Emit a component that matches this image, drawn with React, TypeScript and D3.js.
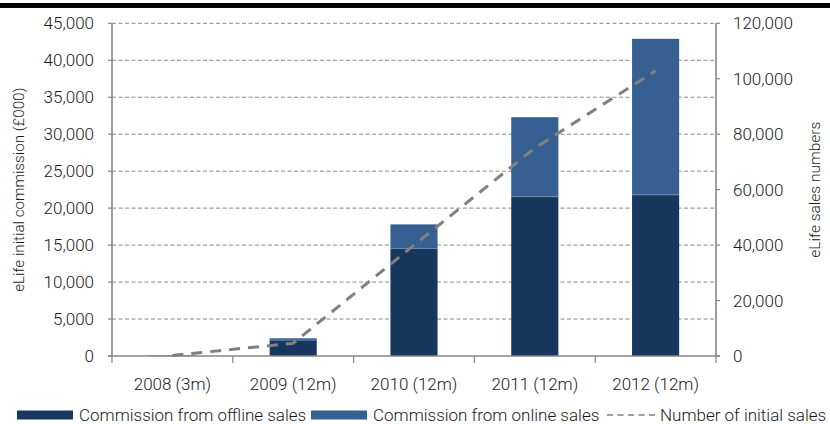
import React from 'react';
import * as d3 from 'd3';

const categories = ['2008 (3m)', '2009 (12m)', '2010 (12m)', '2011 (12m)', '2012 (12m)'];
const offlineCommission = [50, 2150, 14550, 21550, 21800];
const onlineCommission = [10, 250, 3250, 10750, 21100];
const initialSales = [200, 4600, 40000, 75000, 102900];
const leftTicks = [0, 5000, 10000, 15000, 20000, 25000, 30000, 35000, 40000, 45000];
const rightTicks = [0, 20000, 40000, 60000, 80000, 100000, 120000];

const width = 830;
const height = 424;
const margins = { l: 112, r: 114, t: 23.3, b: 68 };
const font = 'Roboto, "Liberation Sans", Arial, sans-serif';
const textColor = '#1a1a1a';

const App = () => {
  const plotw = width - margins.l - margins.r;
  const ploth = height - margins.t - margins.b;

  const x = d3.scaleBand().domain(categories).range([margins.l, margins.l + plotw]).paddingInner(0.61).paddingOuter(0.305);
  const band = d3.scaleBand().domain(categories).range([margins.l, margins.l + plotw]);
  const yL = d3.scaleLinear().domain([0, 45000]).range([margins.t + ploth, margins.t]);
  const yR = d3.scaleLinear().domain([0, 120000]).range([margins.t + ploth, margins.t]);
  const fmt = d3.format(',');

  const line = d3
    .line<number>()
    .x((d, i) => band(categories[i])! + band.bandwidth() / 2)
    .y(d => yR(d));

  const y0 = yL(0);
  const xr = margins.l + plotw;
  const edges = [...categories.map(c => band(c)!), xr];

  return (
    <svg width={width} height={height} style={{ position: 'absolute', left: 0, top: 0, background: '#fff' }} fontFamily={font} fontWeight={300}>
      <rect x={0} y={3} width={width} height={5} fill="#000" />

      {/* gridlines */}
      {leftTicks.slice(1).map(t => (
        <line key={t} x1={margins.l} x2={xr} y1={yL(t)} y2={yL(t)} stroke="#8a8a8a" strokeWidth={1} strokeDasharray="4,2.5" />
      ))}

      {/* bars */}
      {categories.map((c, i) => (
        <g key={c}>
          <rect x={x(c)} width={x.bandwidth()} y={yL(offlineCommission[i])} height={y0 - yL(offlineCommission[i])} fill="#17375e" />
          <rect
            x={x(c)}
            width={x.bandwidth()}
            y={yL(offlineCommission[i] + onlineCommission[i])}
            height={yL(offlineCommission[i]) - yL(offlineCommission[i] + onlineCommission[i])}
            fill="#376092"
          />
          <line x1={x(c)} x2={x(c)! + x.bandwidth()} y1={yL(offlineCommission[i])} y2={yL(offlineCommission[i])} stroke="#6f8fb8" strokeWidth={0.8} />
        </g>
      ))}

      {/* axes */}
      <line x1={margins.l} x2={margins.l} y1={margins.t} y2={y0} stroke="#868686" strokeWidth={1.6} />
      <line x1={xr} x2={xr} y1={margins.t} y2={y0} stroke="#868686" strokeWidth={1.6} />
      <line x1={margins.l - 4} x2={xr + 4} y1={y0} y2={y0} stroke="#868686" strokeWidth={1.6} />
      {leftTicks.map(t => (
        <g key={t}>
          <line x1={margins.l - 4} x2={margins.l} y1={yL(t)} y2={yL(t)} stroke="#868686" strokeWidth={1.2} />
          <text x={94} y={yL(t)} dy="0.36em" textAnchor="end" fontSize={17} fill={textColor}>{fmt(t)}</text>
        </g>
      ))}
      {rightTicks.map(t => (
        <g key={t}>
          <line x1={xr} x2={xr + 4} y1={yR(t)} y2={yR(t)} stroke="#868686" strokeWidth={1.2} />
          <text x={733} y={yR(t)} dy="0.36em" textAnchor="start" fontSize={17} fill={textColor}>{fmt(t)}</text>
        </g>
      ))}
      {edges.map((e, i) => (
        <line key={i} x1={e} x2={e} y1={y0} y2={y0 + 7} stroke="#868686" strokeWidth={1.2} />
      ))}
      {categories.map(c => (
        <text key={c} x={band(c)! + band.bandwidth() / 2} y={390} textAnchor="middle" fontSize={17} fill={textColor}>{c}</text>
      ))}

      {/* sales line */}
      <path d={line(initialSales)!} fill="none" stroke="#808080" strokeWidth={3} strokeDasharray="11,8" />

      {/* axis titles */}
      <text transform={`translate(24,${(margins.t + y0) / 2}) rotate(-90)`} textAnchor="middle" fontSize={15.2} fill={textColor}>
        eLife initial commission (£000)
      </text>
      <text transform={`translate(820,${(margins.t + y0) / 2}) rotate(-90)`} textAnchor="middle" fontSize={15.5} fill={textColor}>
        eLife sales numbers
      </text>

      {/* legend */}
      <rect x={17} y={410.5} width={56} height={9} fill="#17375e" />
      <text x={79} y={421} fontSize={17} fill={textColor}>Commission from offline sales</text>
      <rect x={311} y={410.5} width={56} height={9} fill="#376092" />
      <text x={373} y={421} fontSize={17} fill={textColor}>Commission from online sales</text>
      <line x1={607} x2={655} y1={415} y2={415} stroke="#808080" strokeWidth={1.5} strokeDasharray="6,4.5" />
      <text x={660} y={421} fontSize={17} fill={textColor}>Number of initial sales</text>
    </svg>
  );
};

export default App;
